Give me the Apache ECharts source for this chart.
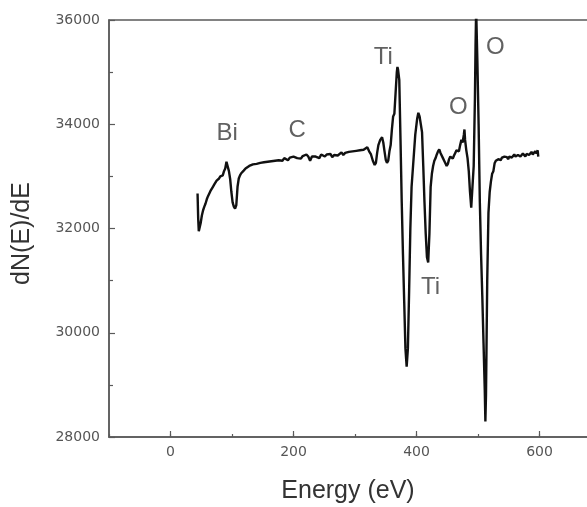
<!DOCTYPE html>
<html>
<head>
<meta charset="utf-8">
<script src="https://cdn.jsdelivr.net/npm/echarts@6/dist/echarts.min.js"></script>
<style>html,body{margin:0;padding:0;background:#fff;overflow:hidden;width:587px;height:507px;}#c{width:602px;height:507px;}</style>
</head>
<body>
<div id="c"></div>
<script>
// Energy (eV)
const energy = [44,45,46,47,49,51,53,55,57,59,61,63,65,67,69,71,73,75,77,79,81,83,85,87,89,91,92,93,95,97,99,101,103,105,107,109,111,113,115,117,119,122,125,128,131,134,137,140,143,146,149,152,155,158,161,164,167,170,173,176,179,182,185,188,191,194,197,200,203,206,209,212,215,218,221,224,227,230,233,236,239,242,245,248,251,254,257,260,263,266,269,272,275,278,281,284,287,290,293,296,299,302,305,308,311,314,317,320,323,326,329,332,334,336,338,341,344,346,348,350,352,354,356,358,360,362,364,366,368,369,370,372,374,376,378,380,382,384,386,388,390,392,395,398,401,403,405,407,409,411,413,415,417,419,421,423,425,427,429,431,433,435,437,439,441,443,445,447,449,451,453,455,457,459,461,463,465,467,469,471,473,475,477,478,479,481,483,485,487,489,491,493,495,496,497,498,499,501,503,505,507,509,511,512,513,515,517,519,521,523,525,527,529,531,533,535,537,539,541,543,545,547,549,551,553,555,557,559,561,563,565,567,569,571,573,575,577,579,581,583,585,587,589,591,593,595,597,598];
// dN(E)/dE
const signal = [32670,32200,31950,31920,32100,32250,32350,32420,32480,32560,32620,32650,32720,32760,32800,32840,32870,32920,32950,32960,33000,33020,33020,33100,33150,33280,33310,33260,33100,32950,32700,32500,32420,32380,32450,32800,32960,33020,33060,33090,33110,33150,33180,33200,33190,33230,33250,33240,33270,33260,33290,33270,33300,33280,33310,33290,33320,33300,33330,33310,33340,33300,33350,33330,33310,33360,33340,33380,33410,33350,33380,33340,33390,33370,33420,33380,33300,33380,33410,33380,33400,33350,33420,33400,33380,33420,33390,33430,33370,33410,33440,33400,33430,33460,33410,33450,33430,33470,33440,33480,33450,33490,33460,33500,33470,33510,33490,33560,33480,33420,33300,33220,33260,33450,33600,33700,33750,33650,33480,33320,33260,33300,33480,33600,33900,34150,34200,34600,35000,35100,35050,34850,33700,32500,31500,30600,29700,29350,29700,30800,32000,32800,33300,33800,34100,34220,34150,34000,33850,33200,32500,31900,31450,31350,31900,32800,33050,33200,33300,33350,33420,33480,33520,33450,33420,33350,33300,33250,33200,33240,33330,33380,33360,33340,33400,33450,33500,33520,33480,33600,33700,33650,33800,33900,33700,33500,33350,33100,32700,32400,32400,33200,34500,35500,36200,36200,35200,34000,32500,31500,30700,29800,28900,28300,28800,31000,32300,32700,32900,33050,33100,33250,33300,33280,33330,33350,33310,33360,33340,33380,33350,33370,33330,33380,33410,33360,33390,33420,33380,33360,33410,33430,33380,33400,33440,33420,33380,33430,33460,33410,33440,33470,33420,33450,33480,33440,33500,33380];
// Peak annotations
const peakNames = ['Bi','C','Ti','Ti','O','O'];
const peakX = [92,206,346,423,468,528];
const peakY = [33827,33885,35288,30865,34327,35481];
const xTicks = [0,200,400,600];
const yTicks = [28000,30000,32000,34000,36000];

const chart = echarts.init(document.getElementById('c'), null, {renderer:'canvas', width:602, height:507});
const lineData = energy.map((e,i)=>[e, signal[i]]);
const annData = peakNames.map((n,i)=>({value:[peakX[i], peakY[i]], name:n}));
const axisGray = '#5a5a5a';
const tickFont = {fontFamily:'DejaVu Sans', fontSize:14, color:'#555'};

chart.setOption({
  animation:false,
  backgroundColor:'#fff',
  grid:{left:109, right:1, top:20, bottom:70, outerBoundsMode:'none', containLabel:false,
    show:true, borderColor:axisGray, borderWidth:1.5, backgroundColor:'transparent'},
  xAxis:[{
    type:'value', min:-100, max:700, interval:100, position:'bottom',
    axisLine:{show:true, onZero:false, lineStyle:{color:axisGray, width:1.5}},
    axisTick:{show:true, inside:true, length:3, lineStyle:{color:axisGray, width:1.2}},
    axisLabel:{show:false}, splitLine:{show:false}
  },{
    type:'value', min:-100, max:700, splitNumber:4, position:'bottom',
    axisLine:{show:false, onZero:false},
    axisTick:{show:true, inside:true, length:6, lineStyle:{color:axisGray, width:1.2}},
    axisLabel:Object.assign({show:true, margin:8, showMinLabel:false, showMaxLabel:false,
      formatter:(v)=> xTicks.indexOf(v)>=0 ? String(v) : ''}, tickFont),
    splitLine:{show:false},
    name:'Energy (eV)', nameLocation:'middle', nameGap:42,
    nameTextStyle:{fontFamily:'Liberation Sans', fontSize:25, color:'#333', padding:[0,14,0,0]}
  }],
  yAxis:{
    type:'value', min:28000, max:36000, interval:2000,
    axisLine:{show:true, onZero:false, lineStyle:{color:axisGray, width:1.5}},
    axisTick:{show:true, inside:true, length:6, lineStyle:{color:axisGray, width:1.2}},
    minorTick:{show:true, splitNumber:2, length:4, lineStyle:{color:axisGray, width:1.2}},
    axisLabel:Object.assign({margin:9, formatter:(v)=> yTicks.indexOf(v)>=0 ? String(v) : ''}, tickFont),
    splitLine:{show:false},
    name:'dN(E)/dE', nameLocation:'middle', nameGap:74,
    nameTextStyle:{fontFamily:'Liberation Sans', fontSize:25, color:'#333', padding:[0,10,0,0]}
  },
  series:[{
    type:'line', xAxisIndex:0, data:lineData, showSymbol:false, symbol:'none',
    lineStyle:{color:'#111', width:2.4}, clip:true, z:3
  },{
    type:'scatter', xAxisIndex:0, data:annData, symbolSize:0, silent:true,
    label:{show:true, position:'inside', formatter:(p)=>p.name,
      fontFamily:'Liberation Sans', fontSize:24, color:'#3a3a3a'}
  }]
});
</script>
</body>
</html>
